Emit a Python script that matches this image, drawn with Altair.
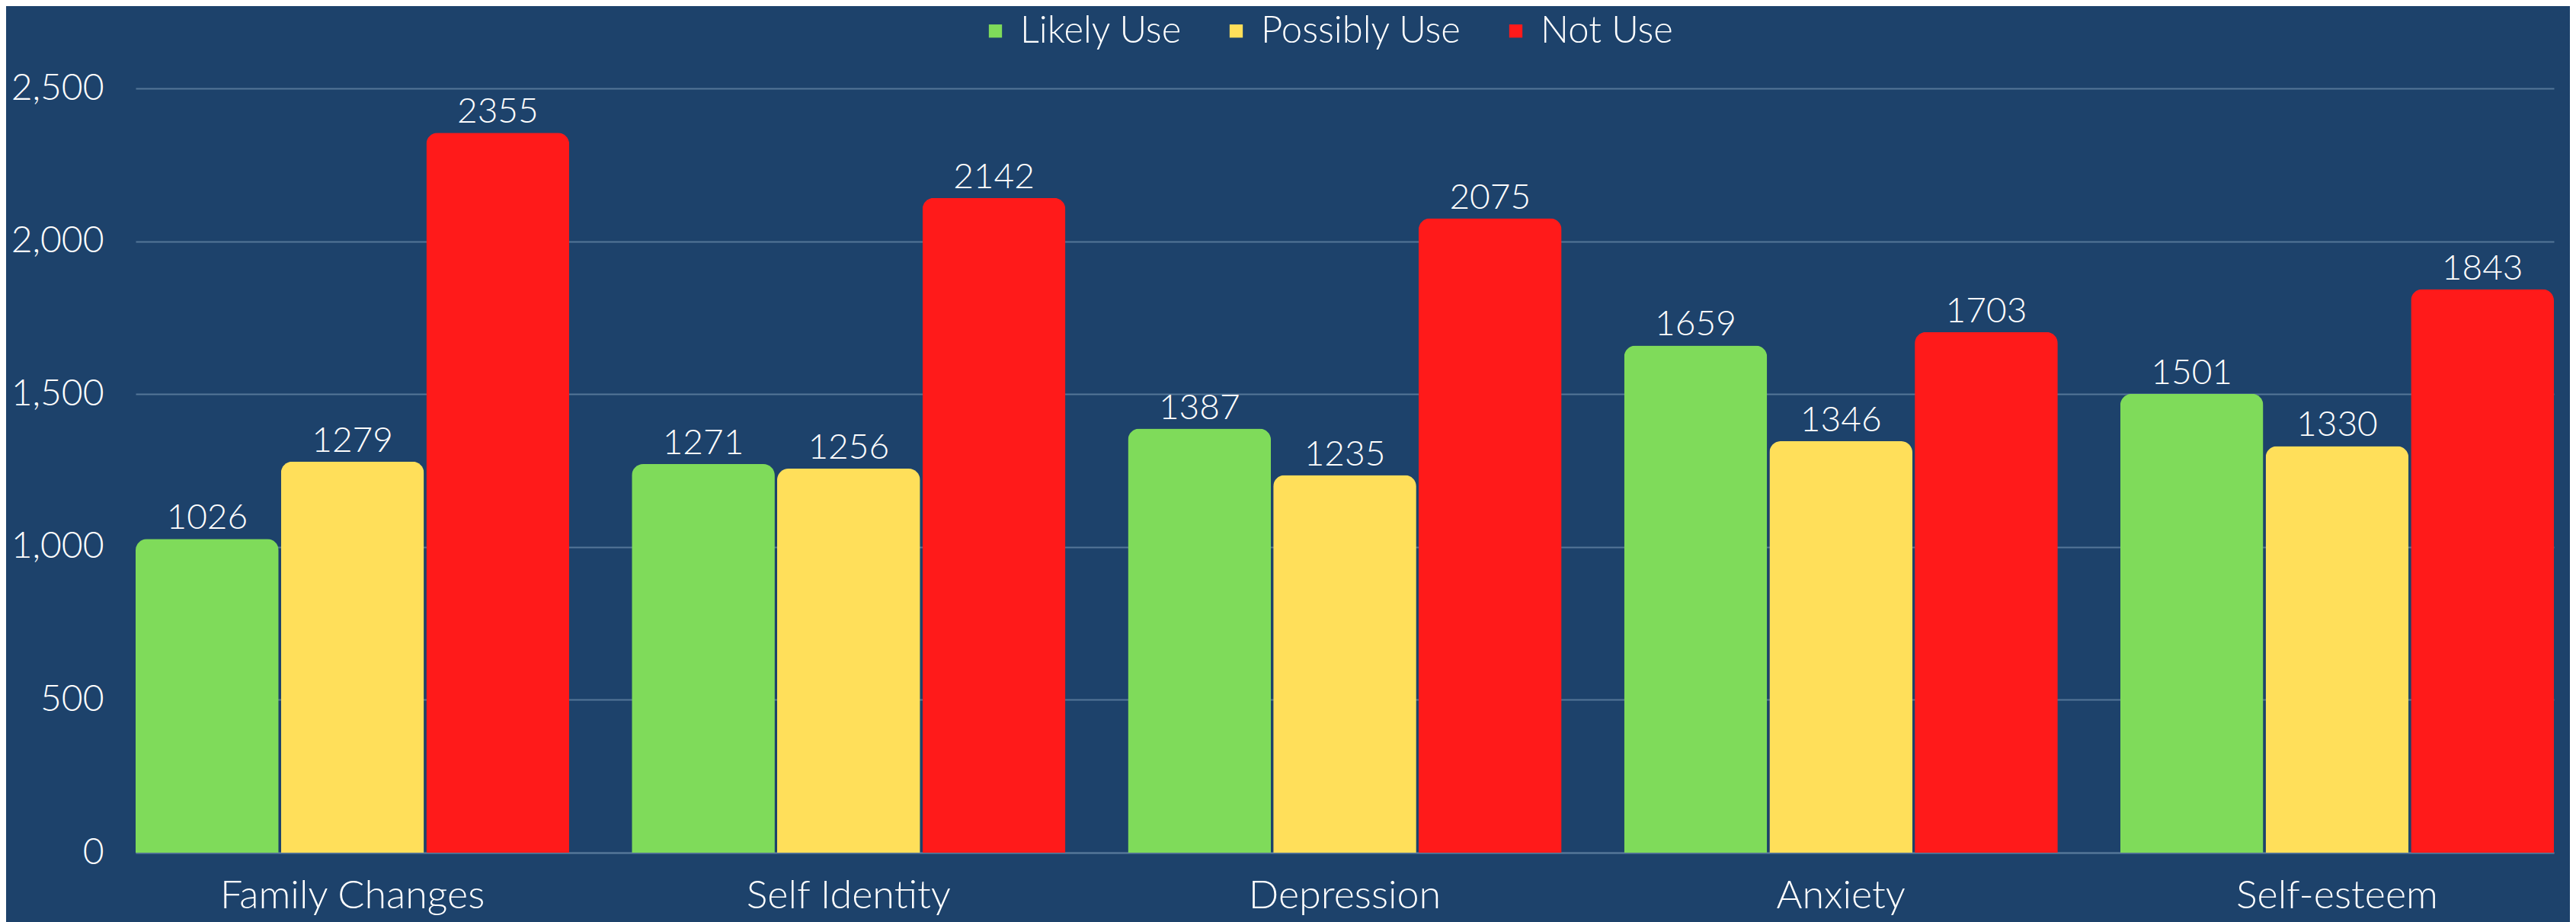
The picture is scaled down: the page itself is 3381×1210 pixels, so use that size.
import altair as alt
import pandas as pd

categories = ["Family Changes", "Self Identity", "Depression", "Anxiety", "Self-esteem"]
series = ["Likely Use", "Possibly Use", "Not Use"]
likely = [1026, 1271, 1387, 1659, 1501]
possibly = [1279, 1256, 1235, 1346, 1330]
not_use = [2355, 2142, 2075, 1703, 1843]
colors = ["#7FDB5A", "#FFDF5A", "#FF1A1A"]
y_ticks = [0, 500, 1000, 1500, 2000, 2500]

rows = []
for i, c in enumerate(categories):
    for s, vals in zip(series, [likely, possibly, not_use]):
        rows.append({"category": c, "series": s, "value": vals[i]})
df = pd.DataFrame(rows)

FONT = "Lato"
BG = "#1D426B"
GRID = "#557698"

base = alt.Chart(df).encode(
    x=alt.X(
        "category:N",
        sort=categories,
        scale=alt.Scale(paddingInner=0.126, paddingOuter=0),
        axis=alt.Axis(
            title=None, labelAngle=0, ticks=False, domain=True,
            domainColor=GRID, domainWidth=2, labelPadding=31,
            labelFontSize=52, labelFont=FONT, labelFontWeight=300,
            labelColor="white", labelLimit=0,
        ),
    ),
    xOffset=alt.XOffset(
        "series:N", sort=series,
        scale=alt.Scale(domain=series, paddingInner=0.016, paddingOuter=0),
    ),
    y=alt.Y(
        "value:Q",
        scale=alt.Scale(domain=[0, 2500], nice=False),
        axis=alt.Axis(
            title=None, values=y_ticks, format=",.0f", ticks=False, domain=False,
            grid=True, gridColor=GRID, gridWidth=2, labelPadding=42,
            labelFontSize=48, labelFont=FONT, labelFontWeight=300,
            labelColor="white", labelLimit=0,
        ),
    ),
)

bars = base.mark_bar(cornerRadiusTopLeft=15, cornerRadiusTopRight=15).encode(
    color=alt.Color(
        "series:N",
        sort=series,
        scale=alt.Scale(domain=series, range=colors),
        legend=alt.Legend(
            title=None, orient="none", legendX=1104, legendY=-100,
            direction="horizontal", symbolType="square", symbolSize=300,
            symbolStrokeWidth=0, labelFontSize=49, labelFont=FONT,
            labelFontWeight=300, labelColor="white", columnPadding=46,
            labelOffset=8, padding=0, labelLimit=0,
        ),
    )
)

labels = base.mark_text(
    baseline="alphabetic", dy=-13, fontSize=46, font=FONT,
    fontWeight=300, color="white",
).encode(text="value:Q")

chart = (bars + labels).properties(
    width=3174,
    height=1003,
    background=BG,
    padding={"left": 170, "top": 108, "right": 21, "bottom": 91},
    autosize=alt.AutoSizeParams(type="none"),
).configure_view(stroke=None)

chart.save("out.html", embed_options={"renderer": "svg", "actions": False})
